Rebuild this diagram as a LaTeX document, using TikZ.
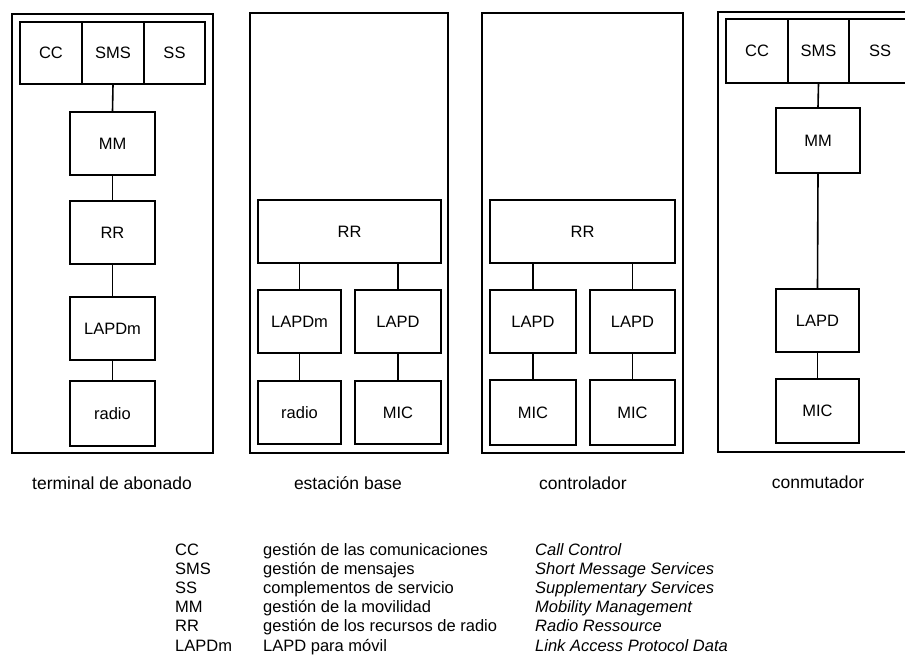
\documentclass[tikz,border=0pt]{standalone}
\usepackage{fontspec}
\setmainfont{Liberation Sans}
\begin{document}
\begin{tikzpicture}[x=1pt,y=-1pt,
  every node/.style={font=\fontsize{16.5}{19}\selectfont},
  box/.style={draw, line width=1.5pt, rectangle, inner sep=0pt},
  frame/.style={draw, line width=1.5pt, rectangle, inner sep=0pt},
  link/.style={line width=1.6pt},
  caption/.style={anchor=center, font=\fontsize{17.5}{19}\selectfont},
  leg/.style={anchor=base west, inner sep=0pt},
  legit/.style={anchor=base west, inner sep=0pt, font=\fontsize{16.5}{19}\selectfont\itshape}]
\useasboundingbox (0,0) rectangle (905,660);
\clip (0,0) rectangle (905,660);
% ---------- column 1: terminal de abonado ----------
\node[frame, minimum width=201pt, minimum height=439pt] (out1) at (112.5,233.5) {};
\node[box, minimum width=62pt, minimum height=62pt] (cc1) at (51,53) {CC};
\node[box, minimum width=62pt, minimum height=62pt] (sms1) at (113,53) {SMS};
\node[box, minimum width=61pt, minimum height=62pt] (ss1) at (174.5,53) {SS};
\node[box, minimum width=85pt, minimum height=63pt] (mm1) at (112.5,143.5) {MM};
\node[box, minimum width=85pt, minimum height=63pt] (rr1) at (112.5,232.5) {RR};
\node[box, minimum width=85pt, minimum height=63pt] (lapdm1) at (112.5,328.5) {LAPDm};
\node[box, minimum width=85pt, minimum height=65pt] (radio1) at (112.5,413.5) {radio};
\draw[link] (sms1.south) -- (mm1.north);
\draw[link] (mm1.south) -- (rr1.north);
\draw[link] (rr1.south) -- (lapdm1.north);
\draw[link] (lapdm1.south) -- (radio1.north);
\node[caption] (cap1) at (112,483) {terminal de abonado};
% ---------- column 2: estación base ----------
\node[frame, minimum width=198pt, minimum height=440pt] (out2) at (349,233) {};
\node[box, minimum width=183pt, minimum height=63pt] (rr2) at (349.5,231.5) {RR};
\node[box, minimum width=83pt, minimum height=63pt] (lapdm2) at (299.5,321.5) {LAPDm};
\node[box, minimum width=86pt, minimum height=63pt] (lapd2) at (398,321.5) {LAPD};
\node[box, minimum width=83pt, minimum height=63pt] (radio2) at (299.5,412.5) {radio};
\node[box, minimum width=86pt, minimum height=63pt] (mic2) at (398,412.5) {MIC};
\draw[link] (rr2.south -| lapdm2.north) -- (lapdm2.north);
\draw[link] (rr2.south -| lapd2.north) -- (lapd2.north);
\draw[link] (lapdm2.south) -- (radio2.north);
\draw[link] (lapd2.south) -- (mic2.north);
\node[caption] (cap2) at (348,483) {estación base};
% ---------- column 3: controlador ----------
\node[frame, minimum width=201pt, minimum height=440pt] (out3) at (582.5,233) {};
\node[box, minimum width=185pt, minimum height=63pt] (rr3) at (582.5,231.5) {RR};
\node[box, minimum width=86pt, minimum height=63pt] (lapd3a) at (533,321.5) {LAPD};
\node[box, minimum width=85pt, minimum height=63pt] (lapd3b) at (632.5,321.5) {LAPD};
\node[box, minimum width=86pt, minimum height=65pt] (mic3a) at (533,412.5) {MIC};
\node[box, minimum width=85pt, minimum height=65pt] (mic3b) at (632.5,412.5) {MIC};
\draw[link] (rr3.south -| lapd3a.north) -- (lapd3a.north);
\draw[link] (rr3.south -| lapd3b.north) -- (lapd3b.north);
\draw[link] (lapd3a.south) -- (mic3a.north);
\draw[link] (lapd3b.south) -- (mic3b.north);
\node[caption] (cap3) at (583,483) {controlador};
% ---------- column 4: conmutador ----------
\node[frame, minimum width=242pt, minimum height=440pt] (out4) at (839,232) {};
\node[box, minimum width=62pt, minimum height=64pt] (cc4) at (757,51) {CC};
\node[box, minimum width=61pt, minimum height=64pt] (sms4) at (818.5,51) {SMS};
\node[box, minimum width=62pt, minimum height=64pt] (ss4) at (880,51) {SS};
\node[box, minimum width=84pt, minimum height=65pt] (mm4) at (818,140.5) {MM};
\node[box, minimum width=83pt, minimum height=63pt] (lapd4) at (817.5,320.5) {LAPD};
\node[box, minimum width=83pt, minimum height=64pt] (mic4) at (817.5,411) {MIC};
\draw[link] (sms4.south) -- (mm4.north);
\draw[link] (mm4.south) -- (lapd4.north);
\draw[link] (lapd4.south) -- (mic4.north);
\node[caption] (cap4) at (818,482) {conmutador};
% ---------- legend ----------
\node[leg] (la1) at (175,555) {CC};
\node[leg] (lb1) at (263,555) {gestión de las comunicaciones};
\node[legit] (lc1) at (535,555) {Call Control};
\node[leg] (la2) at (175,574.2) {SMS};
\node[leg] (lb2) at (263,574.2) {gestión de mensajes};
\node[legit] (lc2) at (535,574.2) {Short Message Services};
\node[leg] (la3) at (175,593.4) {SS};
\node[leg] (lb3) at (263,593.4) {complementos de servicio};
\node[legit] (lc3) at (535,593.4) {Supplementary Services};
\node[leg] (la4) at (175,612.6) {MM};
\node[leg] (lb4) at (263,612.6) {gestión de la movilidad};
\node[legit] (lc4) at (535,612.6) {Mobility Management};
\node[leg] (la5) at (175,631.8) {RR};
\node[leg] (lb5) at (263,631.8) {gestión de los recursos de radio};
\node[legit] (lc5) at (535,631.8) {Radio Ressource};
\node[leg] (la6) at (175,651) {LAPDm};
\node[leg] (lb6) at (263,651) {LAPD para móvil};
\node[legit] (lc6) at (535,651) {Link Access Protocol Data};
\end{tikzpicture}
\end{document}
